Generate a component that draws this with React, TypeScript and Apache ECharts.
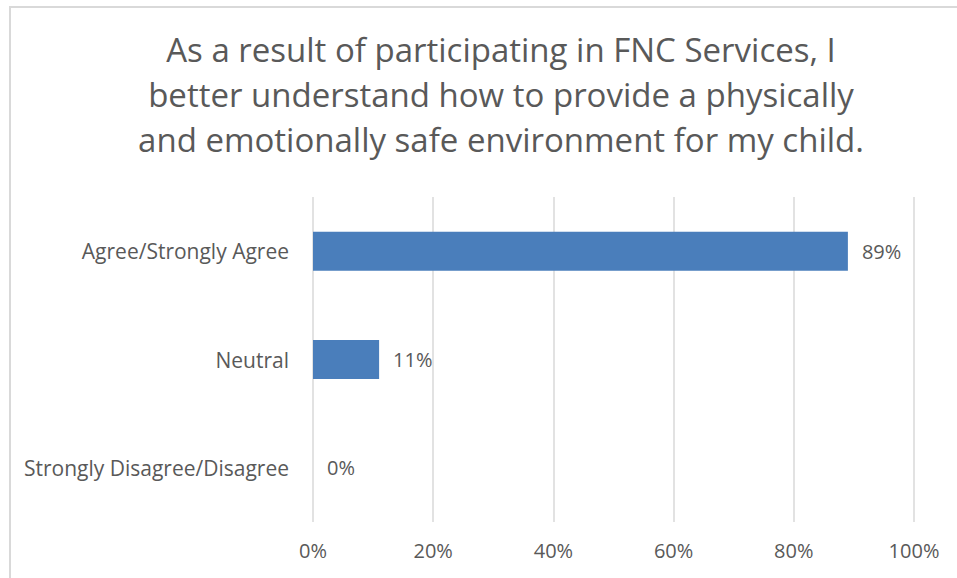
import React, { useEffect, useRef } from "react";
import * as echarts from "echarts";

const categories = ["Strongly Disagree/Disagree", "Neutral", "Agree/Strongly Agree"];
const values = [0, 11, 89];
const titleLines = [
  "As a result of participating in FNC Services, I",
  "better understand how to provide a physically",
  "and emotionally safe environment for my child.",
];

export default function App() {
  const ref = useRef<HTMLDivElement>(null);
  useEffect(() => {
    document.body.style.margin = "0";
    const chart = echarts.init(ref.current!, null, { renderer: "svg" });
    const font = "'Open Sans', 'Noto Sans', sans-serif";
    chart.setOption({
      animation: false,
      backgroundColor: "#ffffff",
      title: {
        text: titleLines.join("\n"),
        left: 496,
        textAlign: "center",
        top: 22,
        textStyle: {
          color: "#595959",
          fontSize: 33,
          fontWeight: "normal",
          fontFamily: font,
          lineHeight: 45,
        },
      },
      graphic: [
        {
          type: "rect",
          shape: { x: 10, y: 7, width: 1000, height: 1000 },
          style: { fill: "none", stroke: "#d9d9d9", lineWidth: 2 },
          silent: true,
        },
      ],
      grid: { left: 313, right: 43, top: 197, bottom: 56 },
      xAxis: {
        type: "value",
        min: 0,
        max: 100,
        interval: 20,
        axisLabel: {
          formatter: "{value}%",
          color: "#595959",
          fontSize: 20,
          fontFamily: font,
          margin: 18,
        },
        axisLine: { show: false },
        axisTick: { show: false },
        splitLine: { lineStyle: { color: "#d9d9d9", width: 1.5 } },
      },
      yAxis: {
        type: "category",
        data: categories,
        axisLabel: {
          color: "#595959",
          fontSize: 21,
          fontFamily: font,
          margin: 24,
        },
        axisLine: { show: false },
        axisTick: { show: false },
      },
      series: [
        {
          type: "bar",
          data: values,
          barWidth: 39,
          itemStyle: { color: "#4a7ebb" },
          label: {
            show: true,
            position: "right",
            distance: 14,
            formatter: "{c}%",
            color: "#595959",
            fontSize: 20,
            fontFamily: font,
          },
        },
      ],
    });
    return () => chart.dispose();
  }, []);
  return <div ref={ref} style={{ width: 957, height: 578 }} />;
}
